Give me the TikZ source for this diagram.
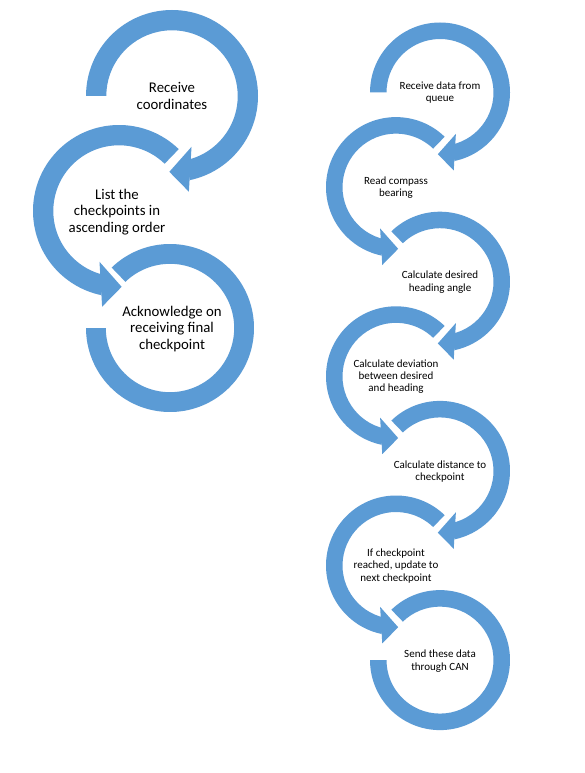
\documentclass[tikz,border=0pt]{standalone}
\usepackage{fontspec}
\setmainfont{Carlito}
\usetikzlibrary{calc}
\definecolor{sablue}{RGB}{91,155,213}
\tikzset{
  ringfill/.style={fill=sablue},
  bigtext/.style={align=center, inner sep=0pt, font=\fontsize{14.8}{16.5}\selectfont},
  smalltext/.style={align=center, inner sep=0pt, font=\fontsize{11}{12.3}\selectfont}
}
% ring sector: cx, cy, R, start angle, end angle
\newcommand{\SArc}[5]{%
  \fill[ringfill] ($(#1pt,#2pt)+(#4:#3pt)$) arc[start angle=#4, end angle=#5, radius=#3pt]
    -- ($(#1pt,#2pt)+(#5:{0.764*#3pt})$) arc[start angle=#5, end angle=#4, radius={0.764*#3pt}] -- cycle;}
% arrow head: cx, cy, R, inner wing angle, tip angle, outer wing angle
\newcommand{\SHead}[6]{%
  \fill[ringfill] ($(#1pt,#2pt)+(#4:{0.633*#3pt})$) -- ($(#1pt,#2pt)+(#5:{0.882*#3pt})$)
    -- ($(#1pt,#2pt)+(#6:{1.13*#3pt})$) -- cycle;}
\begin{document}
\begin{tikzpicture}[x=1pt,y=1pt]
\fill[white] (0,0) rectangle (585,-773);
\useasboundingbox (0,0) rectangle (585,-773);

% ---------- left column ----------
\SArc{172}{-96}{86}{180}{-78}
\SHead{172}{-96}{86}{-69}{-92}{-80}
\SArc{119}{-211}{86}{46}{258}
\SHead{119}{-211}{86}{249}{272}{260}
\SArc{170}{-328}{84}{134}{-180}

\node[bigtext] (l1) at (172,-96) {Receive\\coordinates};
\node[bigtext] (l2) at (117,-212) {List the\\checkpoints in\\ascending order};
\node[bigtext] (l3) at (172,-329) {Acknowledge on\\receiving final\\checkpoint};

% ---------- right column ----------
\SArc{440}{-92.5}{70}{180}{-78}
\SHead{440}{-92.5}{70}{-69}{-92}{-80}
\SArc{396}{-187.1}{70}{46}{258}
\SHead{396}{-187.1}{70}{249}{272}{260}
\SArc{440}{-281.7}{70}{134}{-78}
\SHead{440}{-281.7}{70}{-69}{-92}{-80}
\SArc{396}{-376.3}{70}{46}{258}
\SHead{396}{-376.3}{70}{249}{272}{260}
\SArc{440}{-470.9}{70}{134}{-78}
\SHead{440}{-470.9}{70}{-69}{-92}{-80}
\SArc{396}{-565.5}{70}{46}{258}
\SHead{396}{-565.5}{70}{249}{272}{260}
\SArc{440}{-660.1}{70}{134}{-180}

\node[smalltext] (r1) at (440,-92.5) {Receive data from\\queue};
\node[smalltext] (r2) at (396,-187.5) {Read compass\\bearing};
\node[smalltext] (r3) at (440,-282) {Calculate desired\\heading angle};
\node[smalltext] (r4) at (396,-376.5) {Calculate deviation\\between desired\\and heading};
\node[smalltext] (r5) at (440,-471.5) {Calculate distance to\\checkpoint};
\node[smalltext] (r6) at (396,-566) {If checkpoint\\reached, update to\\next checkpoint};
\node[smalltext] (r7) at (440,-661) {Send these data\\through CAN};
\end{tikzpicture}
\end{document}
